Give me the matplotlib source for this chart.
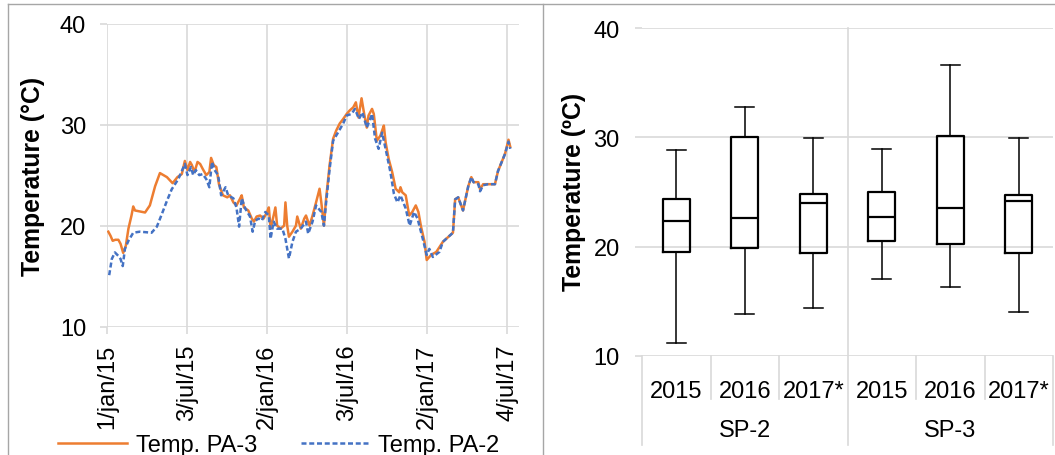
import numpy as np
import matplotlib
matplotlib.use("Agg")
import matplotlib.pyplot as plt
from matplotlib.lines import Line2D

plt.rcParams['font.family'] = ['Liberation Sans', 'DejaVu Sans']

# --- left chart: daily temperature, days counted from 1 Jan 2015 ---
pa3_day = [3, 8, 13, 19, 26, 31, 37, 43, 49, 56, 60, 64, 87, 98, 110, 121, 137, 150, 161, 171,
           178, 184, 190, 194, 200, 207, 213, 219, 227, 234, 238, 244, 250, 256, 265, 275, 281, 289,
           296, 304, 308, 313, 323, 331, 336, 342, 350, 358, 366, 370, 374, 381, 385, 389, 397, 405,
           408, 412, 416, 424, 432, 435, 443, 451, 455, 463, 470, 478, 486, 490, 496, 501, 509, 517,
           524, 532, 540, 548, 555, 563, 569, 575, 582, 588, 594, 598, 606, 610, 617, 625, 629, 633,
           637, 644, 652, 660, 668, 671, 675, 683, 691, 698, 706, 712, 718, 726, 731, 741, 753, 768,
           791, 796, 803, 814, 826, 833, 838, 849, 853, 860, 871, 887, 894, 910, 918, 922]
pa3_temp = [19.4, 19.0, 18.5, 18.6, 18.6, 18.2, 17.3, 18.0, 19.7, 21.0, 21.9, 21.5, 21.3, 22.0,
            23.9, 25.2, 24.8, 24.2, 24.8, 25.1, 26.4, 25.5, 26.3, 26.0, 25.3, 26.3, 26.1, 25.6, 25.0,
            25.3, 26.7, 26.0, 25.8, 24.1, 23.0, 22.8, 23.0, 22.3, 22.0, 22.65, 23.0, 21.8, 21.5, 20.7,
            20.4, 20.9, 21.0, 20.7, 21.35, 21.8, 19.7, 21.0, 21.8, 20.0, 19.7, 20.0, 22.3, 20.0, 18.9,
            19.4, 20.0, 20.9, 19.7, 20.7, 21.0, 20.0, 21.0, 22.3, 23.65, 22.3, 20.0, 22.7, 26.0, 28.6,
            29.4, 30.1, 30.55, 31.05, 31.4, 31.7, 32.2, 30.7, 32.6, 31.05, 29.7, 30.9, 31.55, 31.05,
            28.4, 28.9, 29.4, 29.9, 28.25, 26.6, 25.3, 23.65, 23.3, 23.8, 23.3, 23.0, 21.0, 21.35,
            22.0, 21.35, 19.9, 18.4, 16.6, 17.1, 17.4, 18.4, 19.3, 22.6, 22.8, 21.5, 23.9, 24.8,
            24.3, 24.3, 23.6, 24.1, 24.1, 24.1, 25.4, 27.1, 28.5, 27.8]

pa2_day = [5, 11, 18, 26, 31, 36, 41, 49, 60, 75, 102, 114, 125, 137, 148, 163, 178, 184, 192,
           197, 203, 211, 219, 227, 234, 240, 246, 254, 261, 271, 277, 289, 296, 302, 308, 316, 327,
           333, 339, 347, 354, 362, 370, 374, 381, 389, 401, 408, 416, 424, 432, 443, 455, 460, 470,
           478, 490, 496, 501, 509, 517, 528, 540, 548, 559, 567, 576, 584, 594, 606, 613, 621, 629,
           637, 648, 656, 664, 671, 683, 692, 702, 710, 722, 731, 737, 745, 760, 768, 791, 796, 803,
           814, 826, 833, 838, 849, 853, 860, 871, 887, 894, 910, 918, 922]
pa2_temp = [15.1, 16.7, 17.35, 17.0, 16.7, 16.0, 17.7, 18.5, 19.3, 19.4, 19.3, 19.9, 21.1, 22.45,
            23.6, 24.6, 26.1, 25.0, 25.8, 25.0, 25.5, 25.0, 25.1, 24.6, 23.8, 26.3, 25.5, 25.0, 23.0,
            23.8, 23.0, 22.7, 21.8, 19.9, 22.7, 21.7, 20.9, 19.4, 20.5, 20.7, 20.5, 21.35, 21.0, 18.7,
            20.4, 19.7, 19.7, 18.7, 16.75, 18.4, 19.4, 19.7, 20.4, 19.2, 20.4, 22.0, 21.35, 20.0, 22.3,
            25.6, 28.4, 29.2, 30.1, 30.9, 31.05, 31.55, 30.55, 31.2, 29.7, 31.05, 28.6, 27.6, 29.2,
            27.6, 25.3, 23.15, 22.3, 23.0, 21.7, 20.0, 21.35, 20.7, 18.7, 17.1, 17.7, 16.9, 17.4,
            18.4, 19.3, 22.6, 22.8, 21.5, 23.9, 24.8, 24.3, 24.1, 23.4, 24.0, 24.1, 24.1, 25.4, 27.1,
            28.3, 27.6]

date_ticks = ['2015-01-01', '2015-07-03', '2016-01-02', '2016-07-03', '2017-01-02', '2017-07-04']
date_labels = ['1/jan/15', '3/jul/15', '2/jan/16', '3/jul/16', '2/jan/17', '4/jul/17']

# --- right chart: box plot statistics ---
years = ['2015', '2016', '2017*', '2015', '2016', '2017*']
groups = ['SP-2', 'SP-3']
t_min = [11.2, 13.85, 14.35, 17.0, 16.35, 14.05]
t_q1 = [19.5, 19.85, 19.4, 20.55, 20.2, 19.45]
t_med = [22.35, 22.65, 24.0, 22.75, 23.5, 24.15]
t_q3 = [24.4, 30.05, 24.85, 25.0, 30.15, 24.7]
t_max = [28.85, 32.8, 29.9, 28.9, 36.6, 29.9]

W, H = 1055, 456
fig = plt.figure(figsize=(W / 100, H / 100), dpi=100)
grid_c = '#D9D9D9'
fs = 17

base = np.datetime64('2015-01-01')
x3 = base + np.array(pa3_day).astype('timedelta64[D]')
x2 = base + np.array(pa2_day).astype('timedelta64[D]')

ax1 = fig.add_axes([107 / W, (H - 327.7) / H, (519 - 107) / W, (327.7 - 24.5) / H])
l3, = ax1.plot(x3, pa3_temp, color='#ED7D31', lw=1.8)
l2, = ax1.plot(x2, pa2_temp, color='#4472C4', lw=1.8, ls=(0, (2.0, 1.1)))
ax1.set_ylim(10, 40)
ax1.set_yticks([10, 20, 30, 40])
ax1.set_xlim(base, base + np.timedelta64(942, 'D'))
ax1.set_xticks(np.array(date_ticks, dtype='datetime64[D]'))
ax1.set_xticklabels(date_labels, rotation=90, va='top', ha='center')
ax1.grid(True, color=grid_c, lw=1.2)
ax1.set_axisbelow(True)
for s in ax1.spines.values():
    s.set_visible(False)
ax1.tick_params(axis='both', labelsize=fs, length=5, color=grid_c, width=1.2)
ax1.tick_params(axis='y', pad=10)
ax1.tick_params(axis='x', pad=7)
fig.text(33 / W, 1 - 176 / H, 'Temperature (°C)', rotation=90, ha='center', va='center',
         fontsize=17.8, fontweight='bold')

fig.legend([l3, l2], ['Temp. PA-3', 'Temp. PA-2'], loc='center', ncol=2, frameon=False,
           bbox_to_anchor=(279 / W, (H - 446) / H), fontsize=fs, handlelength=2.9,
           handletextpad=0.38, columnspacing=1.85, borderpad=0, borderaxespad=0)

ax2 = fig.add_axes([642 / W, (H - 357) / H, (1053 - 642) / W, (357 - 29) / H])
stats = [dict(whislo=a, q1=b, med=c, q3=d, whishi=e)
         for a, b, c, d, e in zip(t_min, t_q1, t_med, t_q3, t_max)]
ax2.bxp(stats, positions=range(len(years)), widths=0.4, capwidths=0.28, showfliers=False,
        boxprops=dict(color='black', lw=1.6), medianprops=dict(color='black', lw=1.6),
        whiskerprops=dict(color='black', lw=1.1), capprops=dict(color='black', lw=1.1))
ax2.set_xlim(-0.5, 5.5)
ax2.set_ylim(10, 40)
ax2.set_yticks([10, 20, 30, 40])
ax2.set_xticks([])
ax2.yaxis.grid(True, color=grid_c, lw=1.2)
ax2.set_axisbelow(True)
for s in ax2.spines.values():
    s.set_visible(False)
ax2.tick_params(axis='y', labelsize=fs, length=5, color=grid_c, width=1.2, pad=11)
fig.text(574 / W, 1 - 192 / H, 'Temperature (ºC)', rotation=90, ha='center', va='center',
         fontsize=17.8, fontweight='bold')
tr = ax2.get_xaxis_transform()
for i, y in enumerate(years):
    ax2.text(i, -0.1265, y, transform=tr, ha='center', va='baseline', fontsize=fs)
for g, name in enumerate(groups):
    ax2.text(g * 3 + 1, -0.2454, name, transform=tr, ha='center', va='baseline', fontsize=fs)
for xs in [0.5, 1.5, 3.5, 4.5]:
    ax2.add_line(Line2D([xs, xs], [0, -0.13], transform=tr, color=grid_c, lw=1.2, clip_on=False))
for xs in [-0.5, 5.5]:
    ax2.add_line(Line2D([xs, xs], [0, -0.27], transform=tr, color=grid_c, lw=1.2, clip_on=False))
ax2.add_line(Line2D([2.5, 2.5], [1, -0.27], transform=tr, color=grid_c, lw=1.2, clip_on=False))

# outer chart frames
frame_c = '#A6A6A6'
fig.add_artist(Line2D([8 / W, 8 / W], [0, 1 - 5 / H], color=frame_c, lw=1))
fig.add_artist(Line2D([8 / W, 1], [1 - 5 / H, 1 - 5 / H], color=frame_c, lw=1))
fig.add_artist(Line2D([542.5 / W, 542.5 / W], [0, 1 - 5 / H], color=frame_c, lw=1))

fig.savefig('out.png', dpi=100)
